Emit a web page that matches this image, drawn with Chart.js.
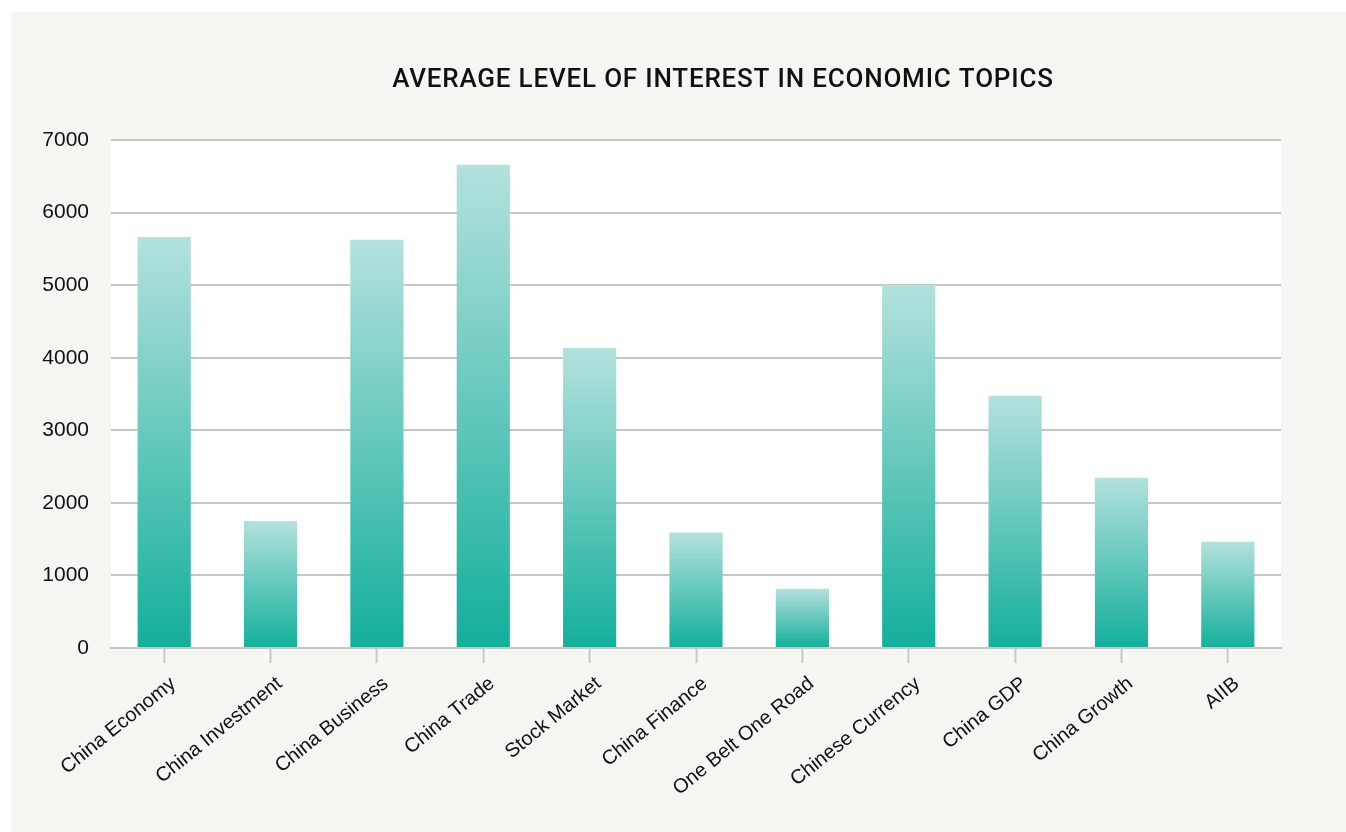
<!DOCTYPE html>
<html>
<head>
<meta charset="utf-8">
<script src="https://cdn.jsdelivr.net/npm/chart.js@4"></script>
<style>
  html, body { margin: 0; padding: 0; background: #ffffff; }
  #wrap { width: 1346px; height: 832px; }
</style>
</head>
<body>
<div id="wrap"><canvas id="interest-chart"></canvas></div>
<script>
// Data for the chart
var titleText = 'AVERAGE LEVEL OF INTEREST IN ECONOMIC TOPICS';
var topics = ['China Economy', 'China Investment', 'China Business', 'China Trade', 'Stock Market',
    'China Finance', 'One Belt One Road', 'Chinese Currency', 'China GDP', 'China Growth', 'AIIB'];
var interest = [5665, 1750, 5625, 6660, 4135, 1590, 815, 5005, 3475, 2345, 1465];
var yTicks = [0, 1000, 2000, 3000, 4000, 5000, 6000, 7000];

var gridGray = '#c6c6c6';
var fontFam = "'Liberation Sans', Arial, sans-serif";

// Backgrounds: grey panel + white plot area, and the title
var backdrop = {
    id: 'backdrop',
    beforeDraw: function (chart) {
        var ctx = chart.ctx;
        var a = chart.chartArea;
        ctx.save();
        ctx.fillStyle = '#f5f5f1';
        ctx.fillRect(11, 12, chart.width - 11, chart.height - 12);
        ctx.fillStyle = '#ffffff';
        ctx.fillRect(a.left, a.top, a.right - a.left, a.bottom - a.top);
        ctx.fillStyle = '#111111';
        ctx.font = "500 26px Roboto, 'Liberation Sans', sans-serif";
        ctx.letterSpacing = '0.8px';
        ctx.textAlign = 'center';
        ctx.textBaseline = 'middle';
        ctx.fillText(titleText, 723, 80);
        ctx.restore();
    }
};

// Each bar gets its own gradient, light on top, teal at the base
function barGradient(c) {
    var chart = c.chart;
    if (!chart.chartArea || !chart.scales.y) return '#5cc0b2';
    var y = chart.scales.y;
    var top = y.getPixelForValue(c.raw);
    var base = y.getPixelForValue(0);
    var g = chart.ctx.createLinearGradient(0, top, 0, base);
    g.addColorStop(0, '#b4e1dd');
    g.addColorStop(1, '#13af9b');
    return g;
}

var ctx = document.getElementById('interest-chart').getContext('2d');
var chart = new Chart(ctx, {
    type: 'bar',
    data: {
        labels: topics,
        datasets: [{
            data: interest,
            backgroundColor: barGradient,
            borderWidth: 0,
            categoryPercentage: 0.5,
            barPercentage: 1
        }]
    },
    options: {
        responsive: true,
        maintainAspectRatio: false,
        animation: false,
        layout: { padding: { top: 140, right: 65, bottom: 0, left: 0 } },
        plugins: {
            legend: { display: false },
            title: { display: false },
            tooltip: { enabled: false }
        },
        scales: {
            x: {
                grid: {
                    display: true,
                    drawOnChartArea: false,
                    drawTicks: true,
                    tickLength: 15,
                    tickWidth: 2,
                    tickColor: gridGray,
                    offset: false
                },
                border: { display: true, color: gridGray, width: 2 },
                ticks: {
                    autoSkip: false,
                    minRotation: 39,
                    maxRotation: 39,
                    padding: 9,
                    labelOffset: 9,
                    color: '#111111',
                    font: { family: fontFam, size: 20 }
                },
                afterFit: function (s) { s.height = 184; }
            },
            y: {
                min: 0,
                max: 7000,
                afterBuildTicks: function (s) {
                    s.ticks = yTicks.map(function (v) { return { value: v }; });
                },
                grid: {
                    color: gridGray,
                    lineWidth: 2,
                    drawTicks: false
                },
                border: { display: false },
                ticks: {
                    padding: 22,
                    color: '#111111',
                    font: { family: fontFam, size: 21 },
                    callback: function (v) { return String(v); }
                },
                afterFit: function (s) { s.width = 111; }
            }
        }
    },
    plugins: [backdrop]
});
</script>
</body>
</html>
